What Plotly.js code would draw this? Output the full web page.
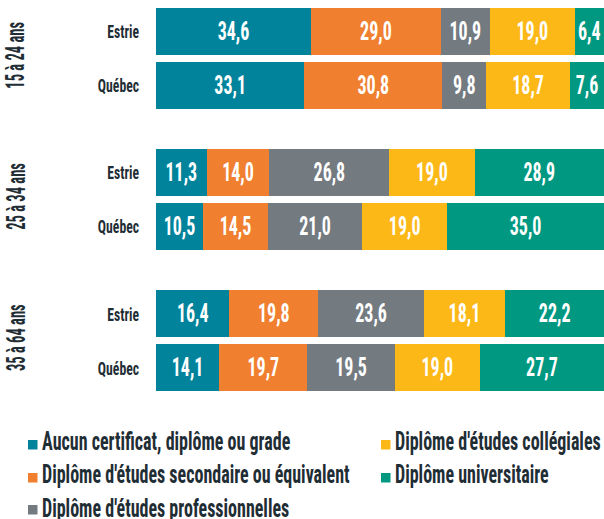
<!DOCTYPE html>
<html><head><meta charset="utf-8">
<script src="https://cdn.plot.ly/plotly-3.0.1.min.js"></script>
<style>html,body{margin:0;padding:0;background:#fff}#c{width:604px;height:519px}</style>
</head><body><div id="c"></div>
<script>
const groups = ["15 à 24 ans", "25 à 34 ans", "35 à 64 ans"];
const regions = ["Estrie", "Québec"];
const series = ["Aucun certificat, diplôme ou grade", "Diplôme d'études secondaire ou équivalent", "Diplôme d'études professionnelles", "Diplôme d'études collégiales", "Diplôme universitaire"];
// rows: 15-24 Estrie, 15-24 Québec, 25-34 Estrie, 25-34 Québec, 35-64 Estrie, 35-64 Québec
const aucun = [34.6, 33.1, 11.3, 10.5, 16.4, 14.1];
const secondaire = [29.0, 30.8, 14.0, 14.5, 19.8, 19.7];
const professionnelles = [10.9, 9.8, 26.8, 21.0, 23.6, 19.5];
const collegiales = [19.0, 18.7, 19.0, 19.0, 18.1, 19.0];
const universitaire = [6.4, 7.6, 28.9, 35.0, 22.2, 27.7];
const colors = ["#00839b", "#f07f2f", "#737a80", "#fcb817", "#009881"];

const values = [aucun, secondaire, professionnelles, collegiales, universitaire];
const FONT = "'Roboto Condensed', Roboto, sans-serif";
const DARK = '#1f2d35';
const W = 604, H = 519, L = 156, PH = 400;
const px2x = p => (p - L) / (W - L);
const py2y = p => (PH - p) / PH;

const groupStep = 2.615;
const ypos = [], ylab = [];
groups.forEach((g, gi) => regions.forEach((r, ri) => { ypos.push(gi * groupStep + ri); ylab.push(r); }));

const traces = series.map((name, i) => ({
  type: 'bar', orientation: 'h', name: name,
  x: values[i], y: ypos, width: 0.87,
  marker: {color: colors[i], line: {width: 0}},
  texttemplate: '%{x:.1f}', textposition: 'inside', insidetextanchor: 'middle',
  constraintext: 'none', textangle: 0,
  textfont: {family: FONT, size: 25, color: '#ffffff', weight: 700},
  hoverinfo: 'skip', showlegend: false
}));

const annotations = groups.map((g, gi) => ({
  text: g, xref: 'paper', yref: 'y', x: px2x(16), y: gi * groupStep + 0.45,
  showarrow: false, textangle: -90, xanchor: 'center', yanchor: 'middle',
  font: {family: FONT, size: 25, color: DARK, weight: 700}
}));
const nGroupAnn = annotations.length;

// manual legend (two columns)
const legRowY = [440, 473, 505];
const legColX = [28, 381];
const shapes = [];
series.forEach((name, i) => {
  const col = i < 3 ? 0 : 1, row = i < 3 ? i : i - 3;
  const mx = legColX[col], my = legRowY[row];
  shapes.push({type: 'rect', xref: 'paper', yref: 'paper', x0: px2x(mx), x1: px2x(mx + 9.5),
               y0: py2y(my + 9.5), y1: py2y(my), fillcolor: colors[i], line: {width: 0}});
  annotations.push({text: name, xref: 'paper', yref: 'paper', x: px2x(mx + 12), y: py2y(my + (row === 2 ? 3 : 1)),
                    xanchor: 'left', yanchor: 'middle', align: 'left', showarrow: false,
                    font: {family: FONT, size: 25, color: DARK, weight: 700}});
});

const layout = {
  width: W, height: H,
  margin: {l: L, r: 0, t: 0, b: H - PH, pad: 0},
  barmode: 'stack', bargap: 0,
  separators: ', ',
  paper_bgcolor: '#fff', plot_bgcolor: '#fff',
  font: {family: FONT, color: DARK},
  xaxis: {range: [0, 100], visible: false, fixedrange: true},
  yaxis: {range: [6.824, -0.5833], tickvals: ypos, ticktext: ylab,
          tickfont: {family: FONT, size: 19, color: DARK, weight: 700}, ticks: '', ticklen: 0,
          ticklabelstandoff: 16,
          showgrid: false, zeroline: false, showline: false, automargin: false},
  showlegend: false,
  shapes: shapes,
  annotations: annotations
};

function squeezeText(t, f) {
  const len = t.getComputedTextLength();
  if (len > 0) { t.setAttribute('textLength', (len * f).toFixed(2)); t.setAttribute('lengthAdjust', 'spacingAndGlyphs'); }
  return len * f;
}
Plotly.newPlot('c', traces, layout, {staticPlot: true, displayModeBar: false}).then(() => {
  document.querySelectorAll('#c text.bartext').forEach(t => squeezeText(t, 0.72));
  document.querySelectorAll('#c .ytick text').forEach(t => squeezeText(t, 0.72));
  document.querySelectorAll('#c g.annotation').forEach(g => {
    const idx = +g.getAttribute('data-index');
    const t = g.querySelector('text.annotation-text');
    if (!t) return;
    if (idx < nGroupAnn) { squeezeText(t, 0.58); }
    else {
      const nl = squeezeText(t, 0.72);
      const bg = g.querySelector('rect.bg');
      if (bg) bg.setAttribute('width', (nl + 4).toFixed(1));
    }
  });
});
</script></body></html>
